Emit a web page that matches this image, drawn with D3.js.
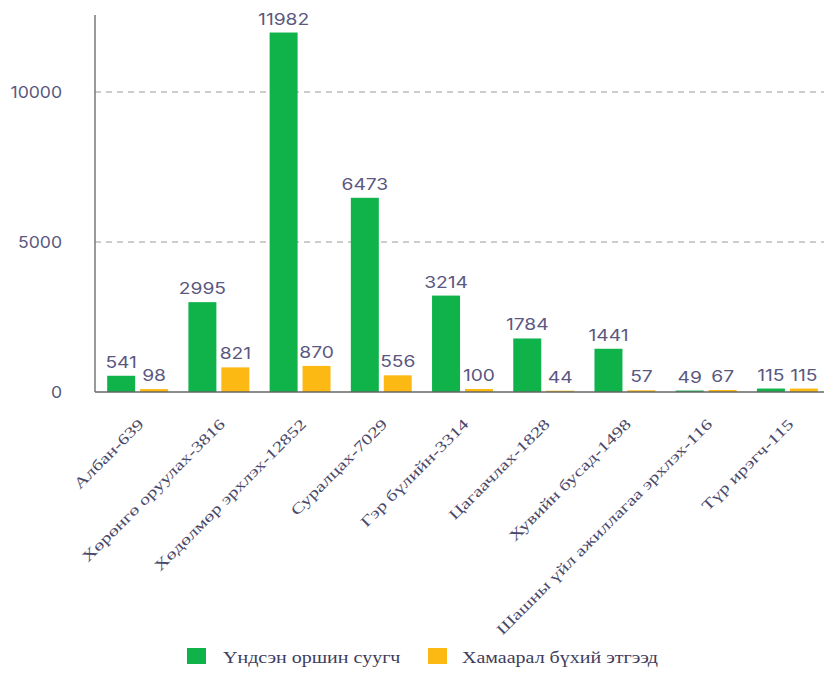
<!DOCTYPE html>
<html><head><meta charset="utf-8">
<script src="https://cdn.jsdelivr.net/npm/d3@7"></script>
<style>body{margin:0;background:#fff}svg{display:block}</style>
</head><body>
<svg id="c" width="824" height="673"></svg>
<script>
const categories = ["Албан-639","Хөрөнгө оруулах-3816","Хөдөлмөр эрхлэх-12852","Суралцах-7029","Гэр бүлийн-3314","Цагаачлах-1828","Хувийн бусад-1498","Шашны үйл ажиллагаа эрхлэх-116","Түр ирэгч-115"];
const seriesNames = ["Үндсэн оршин суугч","Хамаарал бүхий этгээд"];
const residents = [541,2995,11982,6473,3214,1784,1441,49,115];
const dependents = [98,821,870,556,100,44,57,67,115];
const yTicks = [0,5000,10000];
const colors = ["#0fb34a","#fcb813"];

const svg = d3.select("#c");
const left = 95, right = 830, bottom = 392;
const numColor = "#5a5880";
const y = d3.scaleLinear().domain([0,10000]).range([bottom,92]);
const x0 = d3.scaleBand().domain(categories).range([left,right]).paddingInner(0.25).paddingOuter(0.15);
const x1 = d3.scaleBand().domain(seriesNames).range([0,x0.bandwidth()]).paddingInner(0.15);

// grid
svg.append("g").selectAll("line").data(yTicks.filter(d=>d>0)).join("line")
  .attr("x1",left).attr("x2",824).attr("y1",d=>y(d)).attr("y2",d=>y(d))
  .attr("stroke","#9a9a9a").attr("stroke-width",1).attr("stroke-dasharray","6,5");

// y axis
const ya = svg.append("g").attr("transform",`translate(${left},0)`)
  .call(d3.axisLeft(y).tickValues(yTicks).tickSize(0).tickFormat(d3.format("d")));
ya.select(".domain").remove();
ya.selectAll(".tick text").attr("x",0).attr("dy","0.36em")
  .attr("transform","translate(-33,0) scale(1.1,1)")
  .attr("font-family","Inter, sans-serif").attr("font-size",16).attr("fill",numColor);
svg.append("line").attr("x1",left).attr("x2",left).attr("y1",15).attr("y2",bottom).attr("stroke","#777").attr("stroke-width",1.5);

const data = categories.map((c,i)=>({c, vals:[residents[i],dependents[i]]}));
const g = svg.append("g").selectAll("g").data(data).join("g").attr("transform",d=>`translate(${x0(d.c)},0)`);
const items = d=>d.vals.map((v,j)=>({v,s:seriesNames[j],j}));
g.selectAll("rect").data(items).join("rect")
  .attr("x",d=>x1(d.s)).attr("width",x1.bandwidth())
  .attr("y",d=>y(d.v)).attr("height",d=>bottom-y(d.v)).attr("fill",d=>colors[d.j]);
g.selectAll("text").data(items).join("text")
  .attr("transform",d=>`translate(${x1(d.s)+x1.bandwidth()/2},${y(d.v)-8}) scale(1.2,1)`)
  .attr("text-anchor","middle").attr("font-family","Inter, sans-serif").attr("font-size",16)
  .attr("fill",numColor).text(d=>d.v);

// x axis line
svg.append("line").attr("x1",left).attr("x2",824).attr("y1",bottom).attr("y2",bottom).attr("stroke","#666").attr("stroke-width",1.5);

// x labels
const xa = svg.append("g").attr("transform",`translate(0,${bottom})`)
  .call(d3.axisBottom(x0).tickSize(0).tickPadding(0));
xa.select(".domain").remove();
xa.selectAll("text").attr("font-family","'Liberation Serif', serif").attr("font-size",15).attr("fill","#4a4868")
  .attr("text-anchor","end").attr("dy",0).attr("y",0)
  .attr("transform","translate(7,33) rotate(-45) scale(1.35,1)");

// legend
const lg = svg.append("g");
const lx = [187,428];
const tx = [223,462];
seriesNames.forEach((n,i)=>{
  lg.append("rect").attr("x",lx[i]).attr("y",648).attr("width",19).attr("height",16).attr("fill",colors[i]);
  lg.append("text").attr("transform",`translate(${tx[i]},663) scale(1.25,1)`)
    .attr("font-family","'Liberation Serif', serif").attr("font-size",16).attr("fill","#3e3c5c").text(n);
});
</script>
</body></html>
